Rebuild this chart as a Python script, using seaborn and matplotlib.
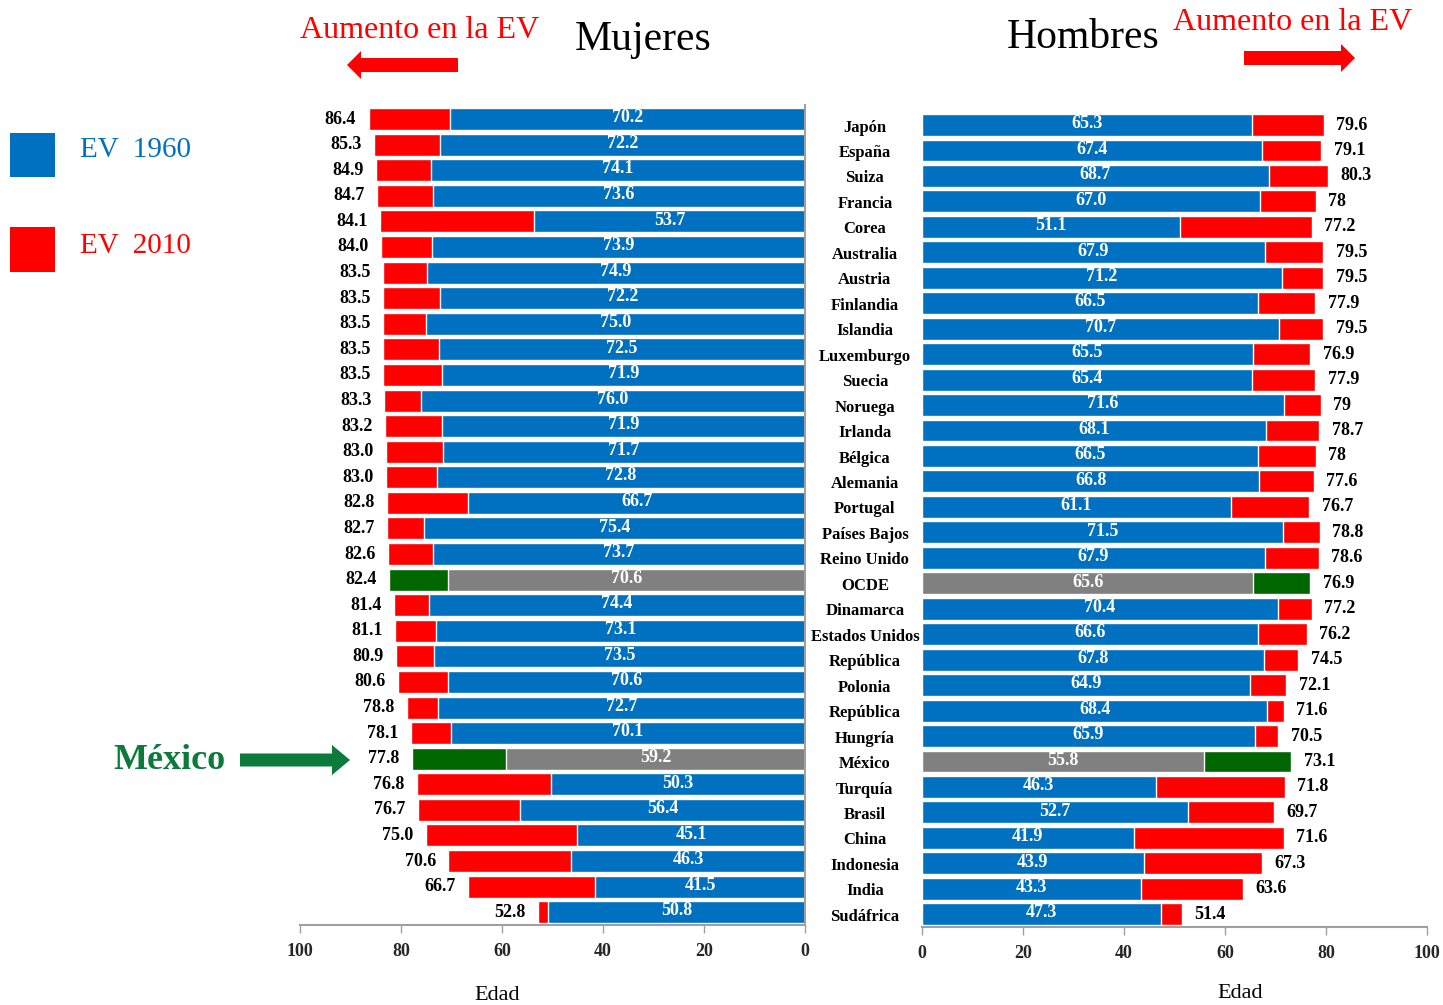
import matplotlib
matplotlib.use("Agg")
import matplotlib.pyplot as plt
import numpy as np
import pandas as pd
import seaborn as sns
from matplotlib.patches import FancyArrow, Rectangle

# ---------------- data ----------------
paises = ["Japón", "España", "Suiza", "Francia", "Corea", "Australia", "Austria",
          "Finlandia", "Islandia", "Luxemburgo", "Suecia", "Noruega", "Irlanda",
          "Bélgica", "Alemania", "Portugal", "Países Bajos", "Reino Unido", "OCDE",
          "Dinamarca", "Estados Unidos", "República", "Polonia", "República",
          "Hungría", "México", "Turquía", "Brasil", "China", "Indonesia", "India",
          "Sudáfrica"]
hombres_1960 = [65.3, 67.4, 68.7, 67.0, 51.1, 67.9, 71.2, 66.5, 70.7, 65.5, 65.4,
                71.6, 68.1, 66.5, 66.8, 61.1, 71.5, 67.9, 65.6, 70.4, 66.6, 67.8,
                64.9, 68.4, 65.9, 55.8, 46.3, 52.7, 41.9, 43.9, 43.3, 47.3]
hombres_2010 = [79.6, 79.1, 80.3, 78.0, 77.2, 79.5, 79.5, 77.9, 79.5, 76.9, 77.9,
                79.0, 78.7, 78.0, 77.6, 76.7, 78.8, 78.6, 76.9, 77.2, 76.2, 74.5,
                72.1, 71.6, 70.5, 73.1, 71.8, 69.7, 71.6, 67.3, 63.6, 51.4]
mujeres_1960 = [70.2, 72.2, 74.1, 73.6, 53.7, 73.9, 74.9, 72.2, 75.0, 72.5, 71.9,
                76.0, 71.9, 71.7, 72.8, 66.7, 75.4, 73.7, 70.6, 74.4, 73.1, 73.5,
                70.6, 72.7, 70.1, 59.2, 50.3, 56.4, 45.1, 46.3, 41.5, 50.8]
mujeres_2010 = [86.4, 85.3, 84.9, 84.7, 84.1, 84.0, 83.5, 83.5, 83.5, 83.5, 83.5,
                83.3, 83.2, 83.0, 83.0, 82.8, 82.7, 82.6, 82.4, 81.4, 81.1, 80.9,
                80.6, 78.8, 78.1, 77.8, 76.8, 76.7, 75.0, 70.6, 66.7, 52.8]
destacados = ["OCDE", "México"]
ticks = [0, 20, 40, 60, 80, 100]

BLUE = "#0070C0"
RED = "#FF0000"
GREEN = "#006600"
GRAY = "#808080"
GREEN_TXT = "#0B7A3A"

sns.set_theme(style="white")
plt.rcParams["font.family"] = ["Liberation Serif", "DejaVu Serif"]

W, H = 1443, 1005
fig = plt.figure(figsize=(W / 100, H / 100), dpi=100)
fig.patch.set_facecolor("white")

axL = fig.add_axes([300 / W, 1 - 925 / H, 505 / W, 820 / H])
axR = fig.add_axes([922 / W, 1 - 927 / H, 505 / W, 816 / H])

n = len(paises)
filas = [str(i) for i in range(n)]
hl_idx = [i for i, p in enumerate(paises) if p in destacados]


def draw(ax, v1960, v2010, side):
    df = pd.DataFrame({"fila": filas, "v1960": v1960, "v2010": v2010})
    sns.barplot(data=df, x="v2010", y="fila", order=filas, orient="h", color=RED,
                saturation=1, width=0.86, edgecolor="white", linewidth=1.0,
                errorbar=None, ax=ax)
    sns.barplot(data=df, x="v1960", y="fila", order=filas, orient="h", color=BLUE,
                saturation=1, width=0.86, edgecolor="white", linewidth=1.0,
                errorbar=None, ax=ax)
    pts = ax.patches
    for i in hl_idx:
        pts[i].set_facecolor(GREEN)
        pts[n + i].set_facecolor(GRAY)
    for i in range(n):
        ax.text(v1960[i] / 2, i - 0.05, f"{v1960[i]:.1f}", ha="center", va="center",
                color="white", fontsize=13, fontweight="bold")
        lab = f"{v2010[i]:.1f}" if side == "L" else f"{v2010[i]:g}"
        off = -9 if side == "L" else 9
        ax.annotate(lab, xy=(v2010[i], i), xytext=(off, 0), textcoords="offset points",
                    ha="right" if side == "L" else "left", va="center",
                    fontsize=13, fontweight="bold", color="black")
    ax.set_ylim(n - 0.5, -0.55)
    ax.set_xticks(ticks)
    ax.set_xticklabels([str(t) for t in ticks], fontsize=13, fontweight="bold")
    ax.set_yticks([])
    ax.set_xlabel("")
    ax.set_ylabel("")
    ax.tick_params(axis="x", direction="out", length=6, width=1, color="#A0A0A0",
                   pad=7, bottom=True)
    for s in ax.spines.values():
        s.set_visible(False)
    ax.spines["bottom"].set_visible(True)
    ax.spines["bottom"].set_color("#A0A0A0")
    ax.spines["bottom"].set_linewidth(1.5)
    ax.set_facecolor("none")


draw(axL, mujeres_1960, mujeres_2010, "L")
axL.set_xlim(100, 0)
axL.spines["right"].set_visible(True)
axL.spines["right"].set_color("#A0A0A0")
axL.spines["right"].set_linewidth(1.5)

draw(axR, hombres_1960, hombres_2010, "R")
axR.set_xlim(0, 100)

for i, p in enumerate(paises):
    axR.text(-11.3, i + 0.1, p, ha="center", va="center", fontsize=12, fontweight="bold",
             color="black", clip_on=False)

# ------------- overlay annotations -------------
ov = fig.add_axes([0, 0, 1, 1])
ov.set_xlim(0, W)
ov.set_ylim(H, 0)
ov.axis("off")
ov.set_facecolor("none")

ov.text(420, 30, "Aumento en la EV", color=RED, fontsize=23, ha="center", va="center")
ov.add_patch(FancyArrow(458, 65, -111, 0, width=14, head_width=28, head_length=14,
                        length_includes_head=True, color=RED, lw=0))
ov.text(643, 40, "Mujeres", color="black", fontsize=30, ha="center", va="center")
ov.text(1083, 38, "Hombres", color="black", fontsize=30, ha="center", va="center")
ov.text(1293, 22, "Aumento en la EV", color=RED, fontsize=23, ha="center", va="center")
ov.add_patch(FancyArrow(1244, 58, 111, 0, width=14, head_width=28, head_length=14,
                        length_includes_head=True, color=RED, lw=0))

ov.add_patch(Rectangle((10, 133), 45, 44, color=BLUE, lw=0))
ov.add_patch(Rectangle((10, 227), 45, 45, color=RED, lw=0))
ov.text(80, 150, "EV  1960", color=BLUE, fontsize=21, ha="left", va="center")
ov.text(80, 246, "EV  2010", color=RED, fontsize=21, ha="left", va="center")

ov.text(169, 760, "México", color=GREEN_TXT, fontsize=26, fontweight="bold",
        ha="center", va="center")
ov.add_patch(FancyArrow(240, 760, 110, 0, width=13, head_width=30, head_length=18,
                        length_includes_head=True, color=GREEN_TXT, lw=0))

ov.text(497, 995, "Edad", color="black", fontsize=16, ha="center", va="center")
ov.text(1240, 993, "Edad", color="black", fontsize=16, ha="center", va="center")

fig.savefig("out.png", dpi=100, facecolor="white")
